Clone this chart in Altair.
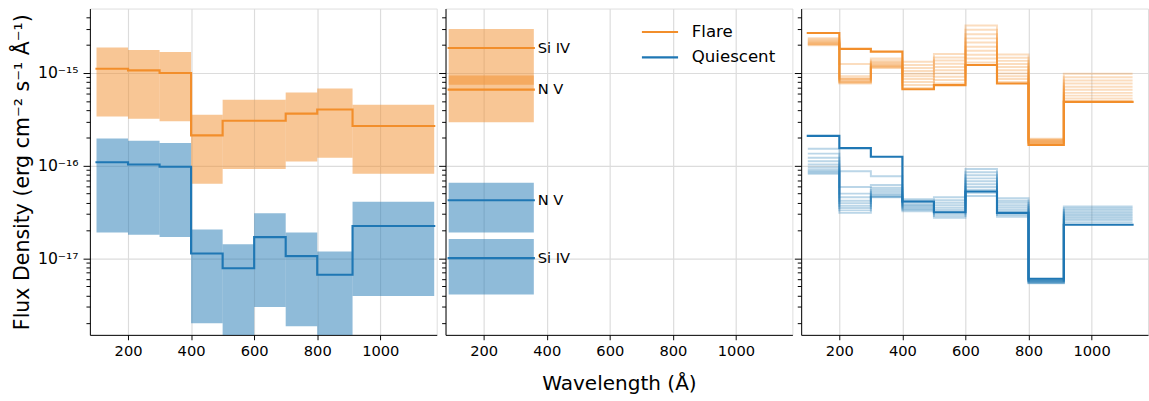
import altair as alt
import pandas as pd

ORANGE = "#f28e2b"
BLUE = "#1f77b4"
SERIES = ["Flare", "Quiescent"]

# ---------------- panel 1: binned spectra with uncertainty bands ----------------
EDGES_P1 = [100, 200, 300, 400, 500, 600, 700, 800, 912, 1171]
FLARE_P1 = [1.11e-15, 1.065e-15, 1.0e-15, 2.12e-16, 3.05e-16, 3.05e-16, 3.64e-16, 4.04e-16, 2.68e-16]
FLARE_P1_HI = [1.88e-15, 1.77e-15, 1.68e-15, 3.55e-16, 5.15e-16, 5.15e-16, 6.15e-16, 6.79e-16, 4.53e-16]
FLARE_P1_LO = [3.39e-16, 3.2e-16, 3.02e-16, 6.4e-17, 9.2e-17, 9.2e-17, 1.11e-16, 1.22e-16, 8.2e-17]
QUIET_P1 = [1.09e-16, 1.03e-16, 9.75e-17, 1.13e-17, 7.85e-18, 1.7e-17, 1.06e-17, 6.67e-18, 2.24e-17]
QUIET_P1_HI = [1.97e-16, 1.86e-16, 1.76e-16, 2.05e-17, 1.42e-17, 3.07e-17, 1.9e-17, 1.19e-17, 4.08e-17]
QUIET_P1_LO = [1.9e-17, 1.8e-17, 1.7e-17, 2.0e-18, 1.3e-18, 3.0e-18, 1.86e-18, 1.2e-18, 3.94e-18]

# ---------------- panel 2: line fluxes ----------------
LINES_P2 = ["Si IV", "N V"]
P2_RANGE = [89, 359]
FLARE_P2 = [1.86e-15, 6.62e-16]
FLARE_P2_HI = [2.98e-15, 9.37e-16]
FLARE_P2_LO = [7.47e-16, 2.95e-16]
QUIET_P2 = [1.01e-17, 4.24e-17]
QUIET_P2_HI = [1.62e-17, 6.56e-17]
QUIET_P2_LO = [4.1e-18, 1.9e-17]

# ---------------- panel 3: family of reconstructed spectra ----------------
EDGES_P3 = [100, 200, 300, 400, 500, 600, 700, 800, 912, 1130]
FLARE_P3 = [2.7e-15, 1.82e-15, 1.70e-15, 6.67e-16, 7.4e-16, 1.22e-15, 7.7e-16, 1.68e-16, 4.87e-16]
QUIET_P3 = [2.1e-16, 1.55e-16, 1.25e-16, 4.11e-17, 3.15e-17, 5.27e-17, 3.1e-17, 6.05e-18, 2.31e-17]

FLARE_P3_FAINT = [
    [2.37e-15, 1.25e-15, 1.43e-15, 1.32e-15, 1.60e-15, 3.25e-15, 1.58e-15, 1.95e-16, 9.8e-16],
    [2.30e-15, 9.2e-16, 1.36e-15, 1.22e-15, 1.47e-15, 2.92e-15, 1.46e-15, 1.92e-16, 9.0e-16],
    [2.24e-15, 8.8e-16, 1.31e-15, 1.13e-15, 1.36e-15, 2.62e-15, 1.35e-15, 1.89e-16, 8.3e-16],
    [2.19e-15, 8.6e-16, 1.27e-15, 1.05e-15, 1.26e-15, 2.36e-15, 1.25e-15, 1.86e-16, 7.7e-16],
    [2.15e-15, 8.5e-16, 1.24e-15, 9.8e-16, 1.16e-15, 2.13e-15, 1.16e-15, 1.84e-16, 7.1e-16],
    [2.11e-15, 8.3e-16, 1.21e-15, 9.2e-16, 1.07e-15, 1.92e-15, 1.07e-15, 1.81e-16, 6.6e-16],
    [2.08e-15, 8.1e-16, 1.19e-15, 8.6e-16, 9.9e-16, 1.74e-15, 9.9e-16, 1.79e-16, 6.1e-16],
    [2.05e-15, 8.0e-16, 1.17e-15, 8.0e-16, 9.1e-16, 1.57e-15, 9.2e-16, 1.77e-16, 5.7e-16],
    [2.02e-15, 7.85e-16, 1.15e-15, 7.4e-16, 8.4e-16, 1.43e-15, 8.6e-16, 1.75e-16, 5.3e-16],
    [1.99e-15, 7.7e-16, 1.13e-15, 6.9e-16, 7.7e-16, 1.30e-15, 8.0e-16, 1.72e-16, 5.0e-16],
]
QUIET_P3_FAINT = [
    [1.52e-16, 8.7e-17, 7.7e-17, 4.35e-17, 4.56e-17, 9.2e-17, 4.45e-17, 5.9e-18, 3.64e-17],
    [1.35e-16, 5.9e-17, 6.2e-17, 4.2e-17, 4.25e-17, 8.5e-17, 4.2e-17, 5.85e-18, 3.48e-17],
    [1.22e-16, 5.0e-17, 5.8e-17, 4.05e-17, 3.98e-17, 7.9e-17, 3.98e-17, 5.8e-18, 3.34e-17],
    [1.12e-16, 4.56e-17, 5.5e-17, 3.9e-17, 3.74e-17, 7.3e-17, 3.76e-17, 5.75e-18, 3.2e-17],
    [1.03e-16, 4.2e-17, 5.24e-17, 3.78e-17, 3.52e-17, 6.8e-17, 3.56e-17, 5.7e-18, 3.07e-17],
    [9.6e-17, 3.95e-17, 5.0e-17, 3.66e-17, 3.33e-17, 6.3e-17, 3.38e-17, 5.65e-18, 2.94e-17],
    [9.1e-17, 3.7e-17, 4.85e-17, 3.55e-17, 3.15e-17, 5.9e-17, 3.22e-17, 5.6e-18, 2.82e-17],
    [8.7e-17, 3.5e-17, 4.7e-17, 3.44e-17, 3.0e-17, 5.5e-17, 3.07e-17, 5.5e-18, 2.7e-17],
    [8.45e-17, 3.3e-17, 4.6e-17, 3.33e-17, 2.86e-17, 5.1e-17, 2.94e-17, 5.45e-18, 2.58e-17],
    [8.2e-17, 3.1e-17, 4.56e-17, 3.22e-17, 2.74e-17, 4.72e-17, 2.81e-17, 5.4e-18, 2.45e-17],
]

# ---------------- axis settings ----------------
X_DOMAIN = [79, 1179]
Y_DOMAIN = [1.5e-18, 4.95e-15]
X_TICKS = [200, 400, 600, 800, 1000]
Y_TICKS = [m * 10.0 ** e for e in (-18, -17, -16) for m in range(1, 10)] + [m * 1e-15 for m in range(1, 5)]
Y_TICKS = [v for v in Y_TICKS if v >= 2e-18]

W, H = 355, 334
FONT = "DejaVu Sans"

MAJOR = "abs(log(datum.value)/LN10 - round(log(datum.value)/LN10)) < 0.001"
LABEL_EXPR = (
    "abs(log(datum.value)/LN10 + 15) < 0.001 ? '10⁻¹⁵' : "
    "abs(log(datum.value)/LN10 + 16) < 0.001 ? '10⁻¹⁶' : "
    "abs(log(datum.value)/LN10 + 17) < 0.001 ? '10⁻¹⁷' : ''"
)

color_scale = alt.Scale(domain=SERIES, range=[ORANGE, BLUE])


def xenc(field, title=None, **kw):
    axis = alt.Axis(
        values=X_TICKS, format="d", grid=True, gridColor="#dcdcdc", gridWidth=1.2,
        tickSize=5, tickColor="black", domainColor="black", labelFontSize=15,
        labelPadding=4, labelFont=FONT, labelColor="black", title=title,
        titleFontSize=20.5, titleFont=FONT, titleFontWeight="normal", titleColor="black",
        titleY=50, titleBaseline="middle",
    )
    return alt.X(field, type="quantitative", scale=alt.Scale(domain=X_DOMAIN, nice=False, zero=False), axis=axis, **kw)


def yenc(field, labels=False, title=None):
    axis = alt.Axis(
        values=Y_TICKS, grid=True, gridColor="#dcdcdc", gridWidth=1.2,
        gridOpacity={"condition": {"test": MAJOR, "value": 1}, "value": 0},
        tickSize={"condition": {"test": MAJOR, "value": 7}, "value": 4},
        tickColor="black", domainColor="black", labels=labels, labelExpr=LABEL_EXPR,
        labelFontSize=16, labelFont=FONT, labelColor="black", labelPadding=5,
        labelOverlap=False, labelBaseline="middle",
        title=title, titleFontSize=21, titleFont=FONT, titleFontWeight="normal",
        titleColor="black", titleX=-69, titleY=H / 2, titleAngle=-90,
        titleAlign="center", titleBaseline="middle",
    )
    return alt.Y(field, type="quantitative", scale=alt.Scale(type="log", domain=Y_DOMAIN, nice=False, zero=False), axis=axis)


def step_frame(edges, vals, series, line=0):
    rows = [{"x": edges[i], "y": vals[i], "series": series, "line": line} for i in range(len(vals))]
    rows.append({"x": edges[-1], "y": vals[-1], "series": series, "line": line})
    return rows


def band_frame(edges, lo, hi, series):
    return [{"x": edges[i], "x2": edges[i + 1], "lo": lo[i], "hi": hi[i], "series": series} for i in range(len(lo))]


YTITLE = "Flux Density (erg cm⁻² s⁻¹ Å⁻¹)"

# ---- panel 1 ----
bands1 = pd.DataFrame(band_frame(EDGES_P1, FLARE_P1_LO, FLARE_P1_HI, "Flare") +
                      band_frame(EDGES_P1, QUIET_P1_LO, QUIET_P1_HI, "Quiescent"))
lines1 = pd.DataFrame(step_frame(EDGES_P1, FLARE_P1, "Flare") + step_frame(EDGES_P1, QUIET_P1, "Quiescent"))

p1_band = alt.Chart(bands1).mark_rect(opacity=0.5, clip=True).encode(
    x=xenc("x"), x2="x2",
    y=yenc("lo", labels=True, title=YTITLE), y2="hi",
    color=alt.Color("series:N", scale=color_scale, legend=None),
)
p1_line = alt.Chart(lines1).mark_line(interpolate="step-after", strokeWidth=2.2, strokeCap="square", clip=True).encode(
    x=xenc("x"), y=yenc("y", labels=True, title=YTITLE),
    color=alt.Color("series:N", scale=color_scale, legend=None), detail="series:N",
)
panel1 = alt.layer(p1_band, p1_line).properties(width=W, height=H)

# ---- panel 2 ----
rows2 = []
for i, name in enumerate(LINES_P2):
    rows2.append({"name": name, "series": "Flare", "v": FLARE_P2[i], "lo": FLARE_P2_LO[i], "hi": FLARE_P2_HI[i],
                  "x": P2_RANGE[0], "x2": P2_RANGE[1]})
    rows2.append({"name": name, "series": "Quiescent", "v": QUIET_P2[i], "lo": QUIET_P2_LO[i], "hi": QUIET_P2_HI[i],
                  "x": P2_RANGE[0], "x2": P2_RANGE[1]})
df2 = pd.DataFrame(rows2)

p2_band = alt.Chart(df2).mark_rect(opacity=0.5, clip=True).encode(
    x=xenc("x", title="Wavelength (Å)"), x2="x2", y=yenc("lo"), y2="hi",
    color=alt.Color("series:N", scale=color_scale, legend=None),
)
p2_rule = alt.Chart(df2).mark_rule(strokeWidth=2.2, strokeCap="square").encode(
    x=xenc("x", title="Wavelength (Å)"), x2="x2", y=yenc("v"),
    color=alt.Color("series:N", scale=color_scale, legend=None),
)
p2_text = alt.Chart(df2).mark_text(align="left", baseline="middle", dx=4, fontSize=15, font=FONT, color="black").encode(
    x=xenc("x2", title="Wavelength (Å)"), y=yenc("v"), text="name:N",
)

# legend (one row per entry so each is drawn once)
legend_df = pd.DataFrame({"series": SERIES})
leg = []
for label, col, yy in [("Flare", ORANGE, 24), ("Quiescent", BLUE, 50)]:
    one = legend_df[legend_df["series"] == label]
    leg.append(alt.Chart(one).mark_rule(strokeWidth=2.2, color=col).encode(
        x=alt.value(201), x2=alt.value(238), y=alt.value(yy)))
    leg.append(alt.Chart(one).mark_text(align="left", baseline="middle", fontSize=17, font=FONT,
                                         color="black").encode(x=alt.value(252), y=alt.value(yy), text="series:N"))
panel2 = alt.layer(p2_band, p2_rule, p2_text, *leg).properties(width=W, height=H)

# ---- panel 3 ----
faint_rows = []
for k, vals in enumerate(FLARE_P3_FAINT):
    faint_rows += step_frame(EDGES_P3, vals, "Flare", k)
for k, vals in enumerate(QUIET_P3_FAINT):
    faint_rows += step_frame(EDGES_P3, vals, "Quiescent", k)
faint3 = pd.DataFrame(faint_rows)
main3 = pd.DataFrame(step_frame(EDGES_P3, FLARE_P3, "Flare") + step_frame(EDGES_P3, QUIET_P3, "Quiescent"))

p3_faint = alt.Chart(faint3).mark_line(interpolate="step-after", strokeWidth=2, opacity=0.3, clip=True).encode(
    x=xenc("x"), y=yenc("y"),
    color=alt.Color("series:N", scale=color_scale, legend=None), detail="line:N",
)
p3_main = alt.Chart(main3).mark_line(interpolate="step-after", strokeWidth=2.2, strokeCap="square", clip=True).encode(
    x=xenc("x"), y=yenc("y"),
    color=alt.Color("series:N", scale=color_scale, legend=None), detail="series:N",
)
panel3 = alt.layer(p3_faint, p3_main).properties(width=W, height=H)

chart = alt.hconcat(panel1, panel2, panel3, spacing=0).properties(
    padding={"left": 11, "top": 3, "right": 0, "bottom": 5},
    background="white",
).configure_view(stroke="black", strokeWidth=1).configure(font=FONT)

chart.save("out.html", embed_options={"renderer": "svg", "actions": False})
